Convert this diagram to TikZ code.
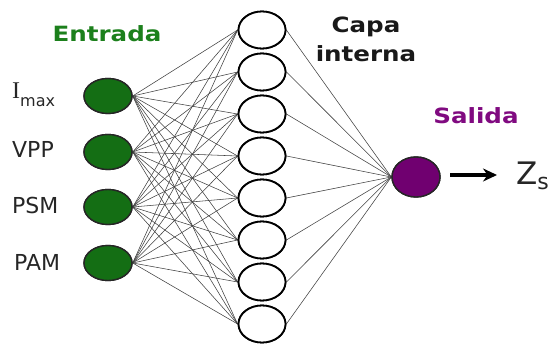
\documentclass[tikz,border=0pt]{standalone}
\usepackage{fontspec}
\usepackage{graphicx}
\setmainfont{DejaVu Sans}
\newfontfamily\serifI{Liberation Serif}
\usetikzlibrary{shapes.geometric,arrows.meta}
\definecolor{ingreen}{RGB}{20,110,20}
\definecolor{txtgreen}{RGB}{28,128,28}
\definecolor{outpurple}{RGB}{112,0,112}
\definecolor{txtpurple}{RGB}{128,10,128}
\tikzset{
  inputnode/.style={ellipse, draw=black!85, line width=1.4pt, fill=ingreen, minimum width=48pt, minimum height=35pt, inner sep=0pt},
  hiddennode/.style={ellipse, draw=black, line width=1.8pt, fill=white, minimum width=47pt, minimum height=37pt, inner sep=0pt},
  outnode/.style={ellipse, draw=black!85, line width=1.4pt, fill=outpurple, minimum width=48pt, minimum height=40pt, inner sep=0pt},
  link/.style={draw=black!75, line width=0.55pt},
  title/.style={font=\fontsize{21}{29}\selectfont\bfseries, inner sep=0pt, anchor=base},
  lbl/.style={font=\fontsize{22}{22}\selectfont, inner sep=0pt, anchor=base west, text=black!85},
}
\begin{document}
\begin{tikzpicture}[x=1pt,y=-1pt]
\useasboundingbox (0,0) rectangle (553,344);
% hidden layer
\foreach \i/\yy in {1/30,2/72,3/114,4/156,5/198,6/240,7/282,8/324}{
  \node[hiddennode] (h\i) at (262,\yy) {};
}
% input layer
\foreach \i/\yy in {1/96,2/152,3/207,4/263}{
  \node[inputnode] (in\i) at (108,\yy) {};
}
% output
\node[outnode] (out) at (416,177) {};
% connections
\foreach \i in {1,...,4}{
  \foreach \j in {1,...,8}{
    \draw[link] (in\i.east) -- (h\j.west);
  }
}
\foreach \j in {1,...,8}{
  \draw[link] (h\j.east) -- (out.west);
}
% redraw nodes on top
\foreach \i/\yy in {1/30,2/72,3/114,4/156,5/198,6/240,7/282,8/324}{
  \node[hiddennode] at (262,\yy) {};
}
\foreach \i/\yy in {1/96,2/152,3/207,4/263}{
  \node[inputnode] at (108,\yy) {};
}
\node[outnode] at (416,177) {};
% titles
\node[title, text=txtgreen] (tin) at (107,42) {\scalebox{1.17}[1]{Entrada}};
\node[title, text=black!90] (thid1) at (366,33) {\scalebox{1.17}[1]{Capa}};
\node[title, text=black!90] (thid2) at (366,62) {\scalebox{1.17}[1]{interna}};
\node[title, text=txtpurple] (tout) at (476,124) {\scalebox{1.17}[1]{Salida}};
% labels
\node[lbl] (l1) at (12,99) {{\fontsize{24}{24}\selectfont\serifI I}\raisebox{-8pt}{\fontsize{16}{16}\selectfont max}};
\node[lbl] (l2) at (12,158) {VPP};
\node[lbl] (l3) at (12,214) {PSM};
\node[lbl] (l4) at (14,270) {PAM};
% output arrow and Z_s
\coordinate (a1) at (450,175);
\coordinate (a2) at (497,175);
\draw[line width=4.5pt, -{Stealth[length=14pt,width=13pt]}] (a1) -- (a2);
\node[inner sep=0pt, anchor=base west, text=black!85] (zs) at (516,185) {{\fontsize{31}{31}\selectfont Z}\raisebox{-5pt}{\fontsize{22}{22}\selectfont s}};
\end{tikzpicture}
\end{document}
